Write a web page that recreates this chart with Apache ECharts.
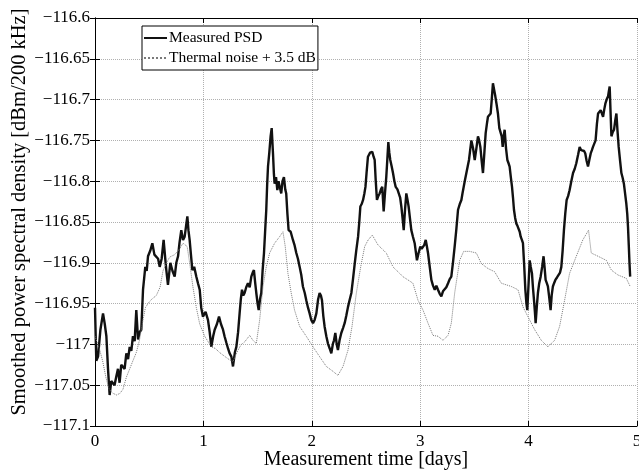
<!DOCTYPE html>
<html>
<head>
<meta charset="utf-8">
<script src="https://cdn.jsdelivr.net/npm/echarts@6/dist/echarts.min.js"></script>
<style>
  html, body { margin: 0; padding: 0; background: #fff; }
  #chart { width: 639px; height: 471px; }
</style>
</head>
<body>
<div id="chart"></div>
<script>
// series names
var seriesNames = ['Measured PSD', 'Thermal noise + 3.5 dB'];

// [day, dBm/200 kHz]
var measuredPsd = [
  [0.000,-116.955],[0.012,-117.020],[0.028,-117.015],[0.050,-116.982],[0.074,-116.962],[0.090,-116.975],
  [0.105,-116.990],[0.120,-117.030],[0.135,-117.062],[0.150,-117.045],[0.166,-117.043],[0.180,-117.050],
  [0.197,-117.039],[0.212,-117.030],[0.227,-117.047],[0.242,-117.025],[0.258,-117.023],[0.273,-117.030],
  [0.289,-117.011],[0.305,-117.018],[0.320,-117.003],[0.335,-117.008],[0.350,-116.990],[0.366,-116.996],
  [0.381,-116.958],[0.397,-116.994],[0.412,-116.985],[0.427,-116.982],[0.443,-116.933],[0.464,-116.905],
  [0.477,-116.910],[0.489,-116.892],[0.510,-116.885],[0.529,-116.876],[0.548,-116.890],[0.566,-116.888],
  [0.582,-116.895],[0.597,-116.905],[0.615,-116.895],[0.633,-116.872],[0.648,-116.895],[0.658,-116.909],
  [0.673,-116.927],[0.695,-116.900],[0.715,-116.910],[0.735,-116.917],[0.750,-116.900],[0.766,-116.892],
  [0.780,-116.875],[0.796,-116.860],[0.812,-116.872],[0.827,-116.868],[0.840,-116.855],[0.852,-116.843],
  [0.862,-116.860],[0.873,-116.872],[0.885,-116.890],[0.898,-116.909],[0.915,-116.905],[0.935,-116.917],
  [0.950,-116.925],[0.966,-116.933],[0.980,-116.955],[0.996,-116.966],[1.020,-116.960],[1.042,-116.970],
  [1.058,-116.985],[1.073,-117.003],[1.090,-116.990],[1.104,-116.982],[1.125,-116.975],[1.144,-116.966],
  [1.162,-116.975],[1.181,-116.982],[1.195,-116.990],[1.212,-116.998],[1.227,-117.005],[1.242,-117.011],
  [1.258,-117.015],[1.273,-117.027],[1.290,-117.010],[1.304,-117.003],[1.320,-116.985],[1.334,-116.962],
  [1.345,-116.945],[1.356,-116.933],[1.368,-116.940],[1.380,-116.937],[1.395,-116.930],[1.411,-116.925],
  [1.427,-116.930],[1.442,-116.917],[1.455,-116.912],[1.466,-116.909],[1.478,-116.925],[1.488,-116.937],
  [1.500,-116.950],[1.510,-116.958],[1.522,-116.945],[1.534,-116.937],[1.546,-116.910],[1.559,-116.888],
  [1.570,-116.860],[1.580,-116.835],[1.588,-116.805],[1.596,-116.782],[1.608,-116.765],[1.620,-116.745],
  [1.630,-116.735],[1.642,-116.766],[1.650,-116.790],[1.657,-116.803],[1.670,-116.795],[1.682,-116.811],
  [1.693,-116.800],[1.703,-116.799],[1.718,-116.815],[1.730,-116.800],[1.743,-116.795],[1.755,-116.810],
  [1.764,-116.815],[1.775,-116.840],[1.786,-116.860],[1.805,-116.862],[1.826,-116.872],[1.840,-116.878],
  [1.857,-116.888],[1.872,-116.895],[1.888,-116.905],[1.903,-116.915],[1.918,-116.929],[1.935,-116.937],
  [1.949,-116.946],[1.965,-116.955],[1.980,-116.962],[1.995,-116.970],[2.011,-116.974],[2.026,-116.970],
  [2.042,-116.962],[2.058,-116.945],[2.072,-116.937],[2.084,-116.940],[2.094,-116.946],[2.106,-116.965],
  [2.118,-116.978],[2.134,-116.990],[2.149,-116.999],[2.165,-117.005],[2.180,-117.011],[2.195,-116.999],
  [2.205,-116.995],[2.217,-116.986],[2.230,-117.000],[2.241,-117.007],[2.256,-116.995],[2.272,-116.986],
  [2.288,-116.980],[2.303,-116.974],[2.318,-116.965],[2.334,-116.954],[2.350,-116.945],[2.365,-116.937],
  [2.380,-116.920],[2.396,-116.901],[2.410,-116.885],[2.427,-116.868],[2.438,-116.850],[2.448,-116.831],
  [2.460,-116.828],[2.473,-116.823],[2.485,-116.815],[2.495,-116.807],[2.505,-116.790],[2.518,-116.770],
  [2.538,-116.765],[2.558,-116.764],[2.570,-116.770],[2.580,-116.774],[2.590,-116.800],[2.601,-116.823],
  [2.614,-116.818],[2.626,-116.815],[2.638,-116.810],[2.650,-116.807],[2.663,-116.837],[2.675,-116.815],
  [2.687,-116.795],[2.696,-116.775],[2.706,-116.752],[2.715,-116.765],[2.724,-116.774],[2.737,-116.782],
  [2.749,-116.790],[2.762,-116.800],[2.774,-116.807],[2.790,-116.810],[2.805,-116.811],[2.815,-116.820],
  [2.826,-116.831],[2.837,-116.845],[2.848,-116.860],[2.860,-116.835],[2.872,-116.815],[2.882,-116.822],
  [2.893,-116.831],[2.905,-116.845],[2.918,-116.860],[2.933,-116.868],[2.949,-116.876],[2.960,-116.887],
  [2.970,-116.897],[2.985,-116.888],[3.001,-116.880],[3.013,-116.883],[3.026,-116.884],[3.038,-116.878],
  [3.051,-116.872],[3.062,-116.880],[3.072,-116.888],[3.088,-116.905],[3.103,-116.921],[3.118,-116.928],
  [3.134,-116.933],[3.149,-116.928],[3.164,-116.933],[3.180,-116.938],[3.195,-116.941],[3.210,-116.935],
  [3.226,-116.937],[3.241,-116.930],[3.257,-116.925],[3.272,-116.920],[3.287,-116.917],[3.302,-116.900],
  [3.318,-116.880],[3.334,-116.858],[3.349,-116.835],[3.365,-116.828],[3.380,-116.823],[3.390,-116.815],
  [3.401,-116.807],[3.414,-116.798],[3.426,-116.790],[3.438,-116.782],[3.450,-116.774],[3.461,-116.762],
  [3.472,-116.750],[3.488,-116.760],[3.503,-116.774],[3.518,-116.760],[3.533,-116.745],[3.544,-116.750],
  [3.555,-116.758],[3.567,-116.775],[3.579,-116.790],[3.592,-116.765],[3.604,-116.741],[3.615,-116.730],
  [3.625,-116.721],[3.638,-116.720],[3.650,-116.717],[3.660,-116.700],[3.671,-116.680],[3.682,-116.688],
  [3.693,-116.696],[3.705,-116.706],[3.717,-116.717],[3.730,-116.735],[3.742,-116.733],[3.752,-116.745],
  [3.761,-116.758],[3.770,-116.745],[3.779,-116.737],[3.792,-116.760],[3.804,-116.774],[3.815,-116.778],
  [3.825,-116.782],[3.836,-116.795],[3.847,-116.807],[3.856,-116.820],[3.865,-116.835],[3.876,-116.845],
  [3.887,-116.852],[3.898,-116.855],[3.908,-116.856],[3.918,-116.862],[3.927,-116.868],[3.938,-116.872],
  [3.948,-116.876],[3.960,-116.905],[3.970,-116.933],[3.980,-116.950],[3.988,-116.958],[4.000,-116.925],
  [4.010,-116.897],[4.020,-116.905],[4.031,-116.913],[4.040,-116.930],[4.050,-116.946],[4.058,-116.960],
  [4.065,-116.974],[4.075,-116.955],[4.086,-116.937],[4.098,-116.925],[4.111,-116.917],[4.125,-116.905],
  [4.138,-116.892],[4.147,-116.905],[4.157,-116.921],[4.168,-116.925],[4.178,-116.929],[4.190,-116.942],
  [4.203,-116.958],[4.213,-116.940],[4.224,-116.929],[4.235,-116.925],[4.247,-116.921],[4.262,-116.918],
  [4.277,-116.917],[4.290,-116.912],[4.302,-116.905],[4.314,-116.885],[4.326,-116.860],[4.338,-116.840],
  [4.351,-116.823],[4.365,-116.818],[4.378,-116.811],[4.394,-116.800],[4.410,-116.790],[4.425,-116.785],
  [4.440,-116.778],[4.456,-116.768],[4.471,-116.758],[4.485,-116.762],[4.500,-116.762],[4.512,-116.763],
  [4.523,-116.766],[4.535,-116.775],[4.548,-116.782],[4.560,-116.774],[4.573,-116.766],[4.584,-116.762],
  [4.594,-116.758],[4.606,-116.754],[4.618,-116.750],[4.630,-116.730],[4.641,-116.717],[4.653,-116.715],
  [4.665,-116.713],[4.676,-116.715],[4.687,-116.721],[4.698,-116.712],[4.708,-116.705],[4.720,-116.700],
  [4.733,-116.696],[4.740,-116.690],[4.748,-116.684],[4.756,-116.715],[4.764,-116.745],[4.776,-116.740],
  [4.788,-116.737],[4.800,-116.725],[4.810,-116.717],[4.820,-116.738],[4.831,-116.758],[4.844,-116.775],
  [4.856,-116.790],[4.868,-116.796],[4.879,-116.803],[4.890,-116.815],[4.901,-116.827],[4.910,-116.840],
  [4.917,-116.856],[4.924,-116.878],[4.931,-116.901],[4.937,-116.917]
];

var thermalNoise = [
  [0.000,-116.990],[0.040,-117.005],[0.070,-117.020],[0.100,-117.040],[0.130,-117.055],[0.166,-117.060],
  [0.200,-117.062],[0.230,-117.060],[0.258,-117.055],[0.290,-117.040],[0.320,-117.030],[0.350,-117.020],
  [0.381,-117.010],[0.410,-116.995],[0.443,-116.970],[0.465,-116.955],[0.489,-116.950],[0.520,-116.945],
  [0.566,-116.940],[0.600,-116.930],[0.627,-116.910],[0.660,-116.900],[0.689,-116.893],[0.735,-116.890],
  [0.770,-116.885],[0.812,-116.876],[0.850,-116.880],[0.873,-116.900],[0.904,-116.930],[0.935,-116.955],
  [0.966,-116.975],[1.012,-116.990],[1.073,-117.003],[1.110,-117.005],[1.150,-117.010],[1.200,-117.015],
  [1.242,-117.019],[1.273,-117.021],[1.319,-117.007],[1.350,-117.000],[1.380,-116.997],[1.427,-116.989],
  [1.457,-116.995],[1.488,-116.999],[1.519,-116.970],[1.550,-116.929],[1.580,-116.905],[1.611,-116.888],
  [1.657,-116.876],[1.703,-116.868],[1.734,-116.862],[1.755,-116.880],[1.780,-116.913],[1.810,-116.937],
  [1.841,-116.958],[1.888,-116.978],[1.949,-116.990],[2.011,-117.003],[2.072,-117.015],[2.134,-117.027],
  [2.195,-117.033],[2.241,-117.038],[2.288,-117.027],[2.334,-117.007],[2.371,-116.978],[2.411,-116.937],
  [2.451,-116.905],[2.488,-116.880],[2.520,-116.872],[2.558,-116.866],[2.610,-116.878],[2.687,-116.888],
  [2.749,-116.905],[2.841,-116.917],[2.933,-116.925],[2.980,-116.946],[3.026,-116.958],[3.072,-116.974],
  [3.118,-116.989],[3.164,-116.990],[3.210,-116.995],[3.257,-116.989],[3.287,-116.974],[3.318,-116.937],
  [3.364,-116.897],[3.401,-116.886],[3.456,-116.886],[3.518,-116.888],[3.564,-116.901],[3.625,-116.907],
  [3.687,-116.911],[3.748,-116.925],[3.840,-116.929],[3.902,-116.933],[3.948,-116.954],[3.994,-116.966],
  [4.056,-116.982],[4.117,-116.995],[4.178,-117.003],[4.240,-116.995],[4.286,-116.978],[4.332,-116.946],
  [4.378,-116.913],[4.440,-116.892],[4.500,-116.872],[4.553,-116.860],[4.578,-116.888],[4.641,-116.892],
  [4.717,-116.897],[4.764,-116.909],[4.825,-116.915],[4.901,-116.919],[4.937,-116.929]
];

var xMin = 0, xMax = 5, xStep = 1;
var yMin = -117.1, yMax = -116.6, yStep = 0.05;

var FONT = 'Liberation Serif';

function yLabel(v) {
  return String(+v.toFixed(2)).replace('-', '\u2212');
}

var myChart = echarts.init(document.getElementById('chart'));

var option = {
  animation: false,
  backgroundColor: '#fff',
  textStyle: { fontFamily: FONT },
  grid: {
    left: 95,
    right: 2,
    top: 18,
    bottom: 45,
    containLabel: false,
    outerBoundsMode: 'none'
  },
  legend: {
    data: seriesNames,
    orient: 'vertical',
    left: 142,
    top: 26,
    padding: [4, 2, 4, 1],
    itemWidth: 23,
    itemHeight: 14,
    itemGap: 4,
    backgroundColor: '#fff',
    borderColor: '#000',
    borderWidth: 1,
    // hide the marker, keep only the line sample
    itemStyle: { opacity: 0 },
    textStyle: { fontFamily: FONT, fontSize: 15.5, color: '#000', padding: [0, 0, 0, -3] }
  },
  xAxis: [
    {
      type: 'value',
      min: xMin, max: xMax, interval: xStep,
      position: 'bottom',
      name: 'Measurement time [days]',
      nameLocation: 'middle',
      nameGap: 24,
      nameMoveOverlap: false,
      nameTextStyle: { fontFamily: FONT, fontSize: 20, color: '#000' },
      axisLine: { lineStyle: { color: '#000', width: 1 } },
      axisTick: { inside: true, length: 5, lineStyle: { color: '#000' } },
      axisLabel: { fontFamily: FONT, fontSize: 17, color: '#000', margin: 7 },
      splitLine: { show: true, lineStyle: { color: '#b0b0b0', type: 'dotted', width: 1 } }
    },
    {
      type: 'value',
      min: xMin, max: xMax, interval: xStep,
      position: 'top',
      axisLine: { lineStyle: { color: '#000', width: 1 } },
      axisTick: { inside: true, length: 5, lineStyle: { color: '#000' } },
      axisLabel: { show: false },
      splitLine: { show: false }
    }
  ],
  yAxis: [
    {
      type: 'value',
      min: yMin, max: yMax, interval: yStep,
      position: 'left',
      name: 'Smoothed power spectral density [dBm/200 kHz]',
      nameLocation: 'middle',
      nameGap: 65,
      nameMoveOverlap: false,
      nameTextStyle: { fontFamily: FONT, fontSize: 20.5, color: '#000', padding: [0, 0, 0, 20] },
      axisLine: { show: true, lineStyle: { color: '#000', width: 1 } },
      axisTick: { show: true, inside: true, length: 5, lineStyle: { color: '#000' } },
      axisLabel: { fontFamily: FONT, fontSize: 17, color: '#000', margin: 5, formatter: yLabel },
      splitLine: { show: true, lineStyle: { color: '#b0b0b0', type: 'dotted', width: 1 } }
    },
    {
      type: 'value',
      min: yMin, max: yMax, interval: yStep,
      position: 'right',
      axisLine: { show: true, lineStyle: { color: '#000', width: 1 } },
      axisTick: { show: true, inside: true, length: 5, lineStyle: { color: '#000' } },
      axisLabel: { show: false },
      splitLine: { show: false }
    }
  ],
  series: [
    {
      name: seriesNames[0],
      type: 'line',
      xAxisIndex: 0,
      yAxisIndex: 0,
      symbol: 'none',
      color: '#000',
      lineStyle: { color: '#111', width: 2.4 },
      data: measuredPsd
    },
    {
      name: seriesNames[1],
      type: 'line',
      xAxisIndex: 0,
      yAxisIndex: 0,
      symbol: 'none',
      color: '#808080',
      lineStyle: { color: '#7a7a7a', width: 1, type: 'dotted' },
      data: thermalNoise
    }
  ]
};

myChart.setOption(option);
</script>
</body>
</html>
